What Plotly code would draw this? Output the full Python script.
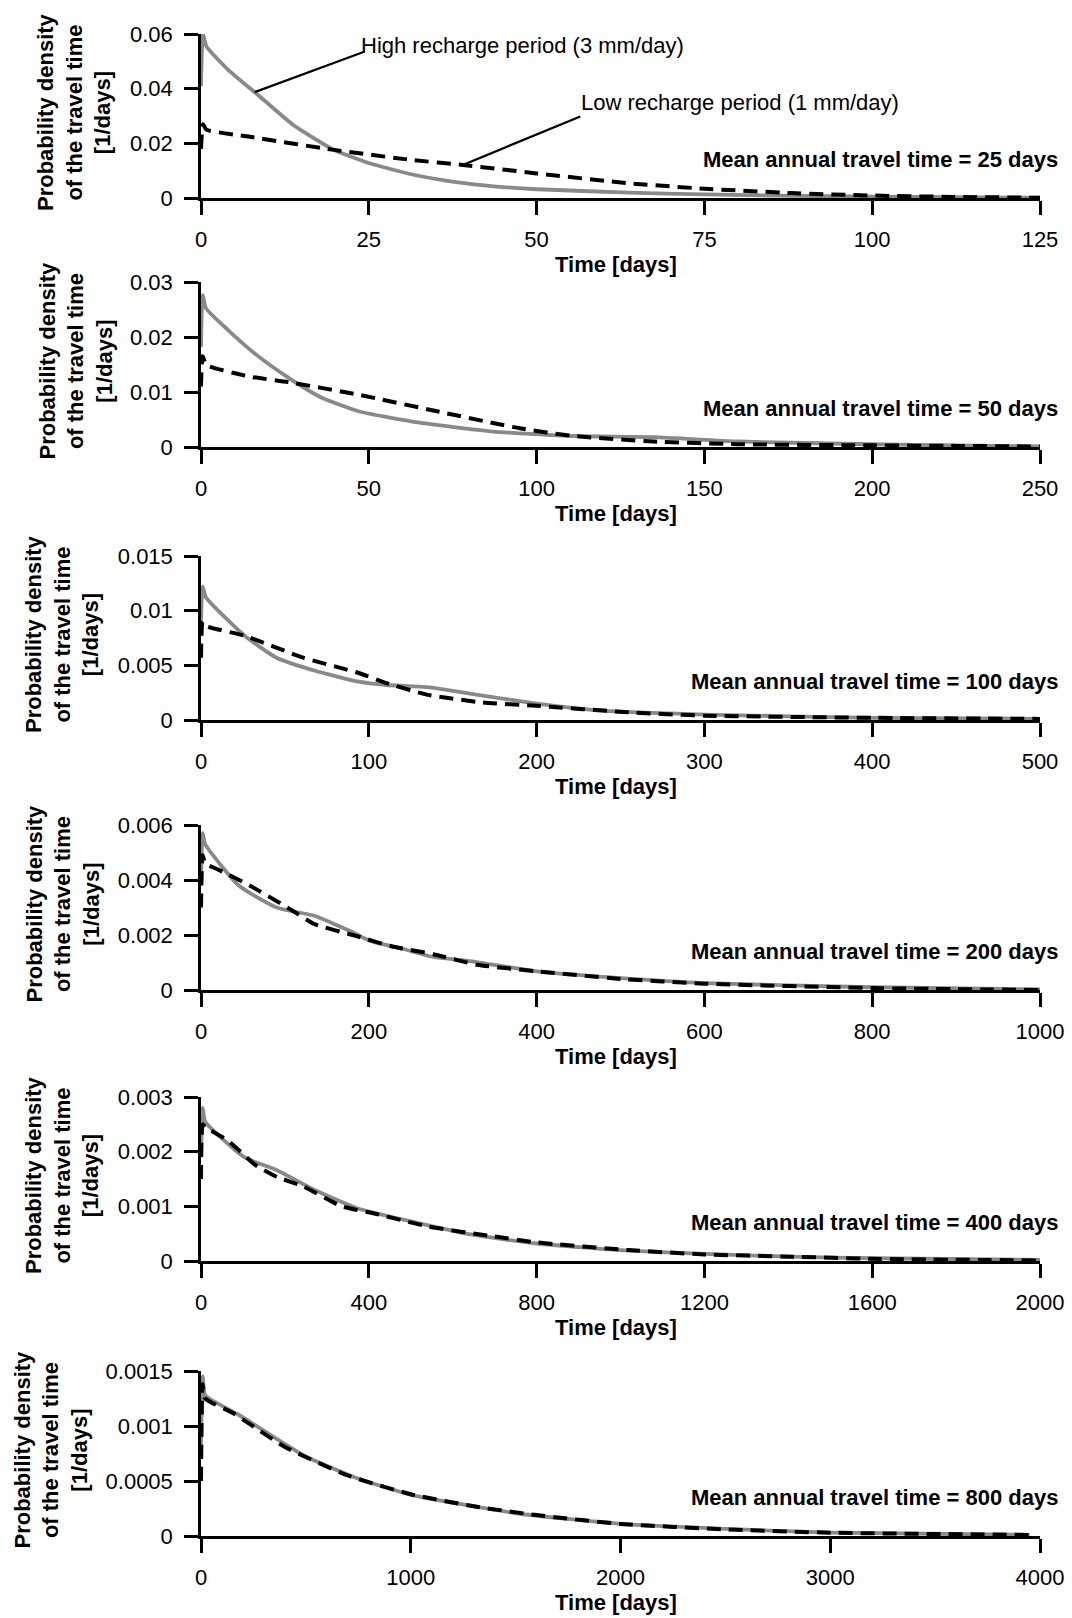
import numpy as np
import plotly.graph_objects as go

# ---- travel-time distributions, one pair of curves per mean annual travel time ----
mean_times = [25, 50, 100, 200, 400, 800]

# High recharge period (3 mm/day), grey solid
t_hi_25 = [0, 0.3, 0.8, 4, 8.5, 13.7, 19.8, 25, 31.5, 38, 44, 50, 63.7, 75, 88, 100, 112, 125]
hi_25 = [0.041, 0.060, 0.0555, 0.047, 0.0377, 0.0268, 0.0176, 0.0128, 0.0086, 0.0058, 0.0042,
         0.0032, 0.0020, 0.0013, 0.0008, 0.0005, 0.0003, 0.0001]
t_hi_50 = [0, 0.5, 1.5, 8, 16, 26, 35.5, 47, 63, 87, 111, 135, 160, 200, 225, 250]
hi_50 = [0.0182, 0.0276, 0.0252, 0.0213, 0.0170, 0.0126, 0.0091, 0.0065, 0.0046, 0.0028,
         0.0020, 0.0018, 0.0010, 0.0005, 0.0003, 0.0001]
t_hi_100 = [0, 1, 3, 26, 45, 68, 94, 110, 135, 165, 200, 239, 300, 400, 500]
hi_100 = [0.0090, 0.0122, 0.0112, 0.0077, 0.0057, 0.0045, 0.0035, 0.0032, 0.0030, 0.0023,
          0.0015, 0.00085, 0.0005, 0.0002, 0.0001]
t_hi_200 = [0, 2, 5, 45, 90, 135, 181, 200, 240, 277, 316, 361, 400, 497, 600, 800, 1000]
hi_200 = [0.0040, 0.0057, 0.0053, 0.0038, 0.0030, 0.0027, 0.0021, 0.0018, 0.0015, 0.0012,
          0.00107, 0.00086, 0.00068, 0.00044, 0.00025, 0.0001, 0.00002]
t_hi_400 = [0, 4, 10, 103, 181, 271, 374, 503, 632, 800, 1019, 1200, 1406, 1600, 2000]
hi_400 = [0.0019, 0.0028, 0.00255, 0.0019, 0.00166, 0.0013, 0.00096, 0.00072, 0.0005,
          0.00032, 0.00019, 0.00013, 0.00008, 0.00005, 0.00002]
t_hi_800 = [0, 8, 20, 181, 492, 751, 1010, 1269, 1528, 2006, 2563, 3003, 3950]
hi_800 = [0.0008, 0.00145, 0.00128, 0.0011, 0.00073, 0.00052, 0.00037, 0.00028, 0.0002,
          0.00011, 0.00006, 0.00003, 0.00001]

# Low recharge period (1 mm/day), black dashed
t_lo_25 = [0, 0.3, 0.8, 7.3, 19.8, 31.5, 39, 50, 63.7, 75, 88, 100, 112, 125]
lo_25 = [0.018, 0.027, 0.025, 0.0224, 0.0176, 0.0139, 0.0121, 0.0090, 0.0054, 0.0034,
         0.0018, 0.0009, 0.0004, 0.0001]
t_lo_50 = [0, 0.5, 1.6, 14.5, 26, 47, 71, 95, 111, 135, 160, 200, 225, 250]
lo_50 = [0.011, 0.0165, 0.0149, 0.0128, 0.0118, 0.0095, 0.0064, 0.0034, 0.0020, 0.0010,
         0.0005, 0.0003, 0.0002, 0.0001]
t_lo_100 = [0, 1, 3, 26, 61, 94, 110, 135, 168, 200, 255, 300, 400, 500]
lo_100 = [0.0057, 0.0090, 0.0086, 0.0077, 0.0057, 0.0043, 0.0034, 0.0023, 0.0016, 0.0013,
          0.0007, 0.0004, 0.0002, 0.0001]
t_lo_200 = [0, 2, 5, 19, 58, 103, 135, 181, 226, 277, 329, 400, 497, 600, 800, 1000]
lo_200 = [0.0030, 0.0049, 0.0046, 0.0044, 0.0038, 0.0030, 0.0024, 0.0020, 0.0016, 0.0013,
          0.00092, 0.00068, 0.00041, 0.00023, 0.00007, 0.0]
t_lo_400 = [0, 4, 10, 65, 129, 181, 245, 335, 413, 542, 697, 800, 1019, 1200, 1406, 1600, 2000]
lo_400 = [0.0015, 0.0025, 0.00245, 0.0022, 0.00176, 0.00154, 0.00136, 0.0010, 0.00087,
          0.00063, 0.00045, 0.00034, 0.0002, 0.00012, 0.00008, 0.00004, 0.00001]
t_lo_800 = [0, 8, 20, 150, 400, 700, 1000, 1300, 1600, 2000, 2500, 3000, 3950]
lo_800 = [0.0005, 0.00138, 0.00125, 0.00112, 0.00081, 0.00055, 0.00038, 0.00027, 0.00019,
          0.00011, 0.00006, 0.00003, 0.00001]

# ---- axis ticks ----
x_ticks_25 = [0, 25, 50, 75, 100, 125]
x_ticks_50 = [0, 50, 100, 150, 200, 250]
x_ticks_100 = [0, 100, 200, 300, 400, 500]
x_ticks_200 = [0, 200, 400, 600, 800, 1000]
x_ticks_400 = [0, 400, 800, 1200, 1600, 2000]
x_ticks_800 = [0, 1000, 2000, 3000, 4000]

y_ticks_25 = [0, 0.02, 0.04, 0.06]
y_ticks_50 = [0, 0.01, 0.02, 0.03]
y_ticks_100 = [0, 0.005, 0.01, 0.015]
y_ticks_200 = [0, 0.002, 0.004, 0.006]
y_ticks_400 = [0, 0.001, 0.002, 0.003]
y_ticks_800 = [0, 0.0005, 0.001, 0.0015]

y_labels_25 = ["0", "0.02", "0.04", "0.06"]
y_labels_50 = ["0", "0.01", "0.02", "0.03"]
y_labels_100 = ["0", "0.005", "0.01", "0.015"]
y_labels_200 = ["0", "0.002", "0.004", "0.006"]
y_labels_400 = ["0", "0.001", "0.002", "0.003"]
y_labels_800 = ["0", "0.0005", "0.001", "0.0015"]

high_t = [t_hi_25, t_hi_50, t_hi_100, t_hi_200, t_hi_400, t_hi_800]
high_v = [hi_25, hi_50, hi_100, hi_200, hi_400, hi_800]
low_t = [t_lo_25, t_lo_50, t_lo_100, t_lo_200, t_lo_400, t_lo_800]
low_v = [lo_25, lo_50, lo_100, lo_200, lo_400, lo_800]
x_ticks = [x_ticks_25, x_ticks_50, x_ticks_100, x_ticks_200, x_ticks_400, x_ticks_800]
y_ticks = [y_ticks_25, y_ticks_50, y_ticks_100, y_ticks_200, y_ticks_400, y_ticks_800]
y_labels = [y_labels_25, y_labels_50, y_labels_100, y_labels_200, y_labels_400, y_labels_800]

# ---- page geometry (pixels) ----
W, H = 1072, 1618
PLOT_LEFT, PLOT_RIGHT = 201, 1040
panel_top = [34, 282, 556, 825, 1097, 1371]
panel_bottom = [198, 447, 720, 990, 1261, 1536]
ytitle_x = [74, 75, 62, 62, 62, 50]

FONT = "Liberation Sans, Arial, Helvetica, sans-serif"
GREY = "#898989"


def px_x(p):
    return p / W


def px_y(p):
    return 1 - p / H


fig = go.Figure()
layout = dict(
    template="none",
    width=W, height=H, autosize=False,
    margin=dict(l=0, r=0, t=0, b=0, pad=0, autoexpand=False),
    paper_bgcolor="white", plot_bgcolor="white",
    showlegend=False,
    font=dict(family=FONT, size=22, color="black"),
)
annotations = []

for i in range(6):
    n = "" if i == 0 else str(i + 1)
    xa, ya = "x" + n, "y" + n

    fig.add_trace(go.Scatter(
        x=high_t[i], y=high_v[i], mode="lines", xaxis=xa, yaxis=ya,
        line=dict(color=GREY, width=3.8, shape="spline", smoothing=0.5), cliponaxis=False,
        name="High recharge period (3 mm/day)"))
    fig.add_trace(go.Scatter(
        x=low_t[i], y=low_v[i], mode="lines", xaxis=xa, yaxis=ya,
        line=dict(color="black", width=4, dash="14px,8px", shape="spline", smoothing=0.5),
        cliponaxis=False, name="Low recharge period (1 mm/day)"))

    common = dict(
        showline=True, linecolor="black", linewidth=2.5,
        ticks="outside", ticklen=14, tickwidth=2.5, tickcolor="black",
        showgrid=False, zeroline=False, automargin=False,
        tickfont=dict(family=FONT, size=22, color="black"),
    )
    layout["xaxis" + n] = dict(
        common, domain=[px_x(PLOT_LEFT), px_x(PLOT_RIGHT)],
        range=[0, x_ticks[i][-1]], anchor=ya,
        tickvals=x_ticks[i], ticktext=[str(v) for v in x_ticks[i]],
        ticklabelstandoff=6,
    )
    layout["yaxis" + n] = dict(
        common, domain=[px_y(panel_bottom[i]), px_y(panel_top[i])],
        range=[0, y_ticks[i][-1]], anchor=xa,
        tickvals=y_ticks[i], ticktext=y_labels[i],
        ticklabelstandoff=7,
    )

    # axis titles
    annotations.append(dict(
        text="<b>Time [days]</b>", xref="paper", yref="paper",
        x=px_x(616), y=px_y(panel_bottom[i] + 66),
        xanchor="center", yanchor="middle", showarrow=False,
        font=dict(family=FONT, size=22, color="black")))
    annotations.append(dict(
        text="<b>Probability density<br>of the travel time<br>[1/days]</b>",
        xref="paper", yref="paper",
        x=px_x(ytitle_x[i]), y=px_y((panel_top[i] + panel_bottom[i]) / 2 - 4),
        xanchor="center", yanchor="middle", textangle=-90, showarrow=False,
        font=dict(family=FONT, size=22, color="black")))
    annotations.append(dict(
        text=f"<b>Mean annual travel time = {mean_times[i]} days</b>",
        xref="paper", yref="paper",
        x=px_x(1060), y=px_y(panel_bottom[i] - 39),
        xanchor="right", yanchor="middle", showarrow=False,
        font=dict(family=FONT, size=22, color="black")))

# curve labels with leader lines (top panel)
t_tip_hi, t_tip_lo = 8.0, 39.0
annotations.append(dict(
    text="", x=t_tip_hi, y=float(np.interp(t_tip_hi, t_hi_25, hi_25)), xref="x", yref="y",
    showarrow=True, arrowhead=0, arrowwidth=2.2, arrowcolor="black",
    ax=111, ay=-41, standoff=0))
annotations.append(dict(
    text="", x=t_tip_lo, y=float(np.interp(t_tip_lo, t_lo_25, lo_25)), xref="x", yref="y",
    showarrow=True, arrowhead=0, arrowwidth=2.2, arrowcolor="black",
    ax=119, ay=-49, standoff=0))
annotations.append(dict(
    text="High recharge period (3 mm/day)", xref="paper", yref="paper",
    x=px_x(359), y=px_y(46), xanchor="left", yanchor="middle", showarrow=False,
    font=dict(family=FONT, size=22, color="black")))
annotations.append(dict(
    text="Low recharge period (1 mm/day)", xref="paper", yref="paper",
    x=px_x(579), y=px_y(102), xanchor="left", yanchor="middle", showarrow=False,
    font=dict(family=FONT, size=22, color="black")))

layout["annotations"] = annotations
fig.update_layout(**layout)
fig.write_html("out.html")
